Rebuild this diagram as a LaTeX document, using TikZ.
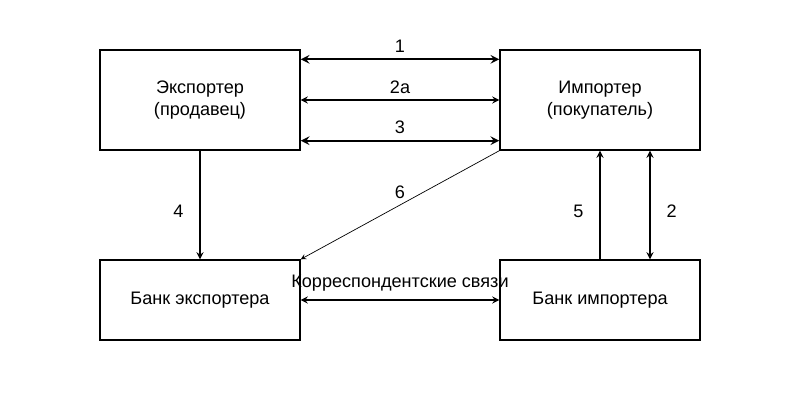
\documentclass[tikz,border=0pt]{standalone}
\usepackage{fontspec}
\setmainfont{Liberation Sans}
\begin{document}
\begin{tikzpicture}[x=0.02cm,y=-0.02cm,font=\fontsize{10.3}{12.5}\selectfont]
    \tikzset{box/.style={draw,thick,minimum width=4cm,align=center}}
    \useasboundingbox (0,0) rectangle (800,400);
    \node [box,minimum height=2cm] (exp) at (200,100) {Экспортер\\(продавец)};
    \node [box,minimum height=2cm] (imp) at (600,100) {Импортер\\(покупатель)};
    \node [box,minimum height=1.6cm] (bexp) at (200,300) {Банк экспортера};
    \node [box,minimum height=1.6cm] (bimp) at (600,300) {Банк импортера};
    \draw [<->,>=stealth,very thick] ([yshift=-0.2cm]exp.north east)--([yshift=-0.2cm]imp.north west) node [midway,above] {1};
    \draw [<->,>=stealth,thick] (exp.east)--(imp.west) node [midway,above] {2a};
    \draw [<->,>=stealth,very thick] ([yshift=0.2cm]exp.south east)--([yshift=0.2cm]imp.south west) node [midway,above] {3};
    \draw [->,>=stealth,thick] (exp.south)--(bexp.north) node [midway,left=0.2cm,yshift=-0.12cm] {4};
    \draw [->,>=stealth] (imp.south west)--(bexp.north east) node [midway,above] {6};
    \draw [->,>=stealth,thick] (bimp.north)--(imp.south) node [midway,left=0.2cm,yshift=-0.12cm] {5};
    \draw [<->,>=stealth,thick] ([xshift=1cm]bimp.north)--([xshift=1cm]imp.south) node [midway,right=0.2cm,yshift=-0.12cm] {2};
    \draw [<->,>=stealth,thick] (bexp.east)--(bimp.west) node [midway,above=0.05cm] {Корреспондентские связи};
\end{tikzpicture}
\end{document}
